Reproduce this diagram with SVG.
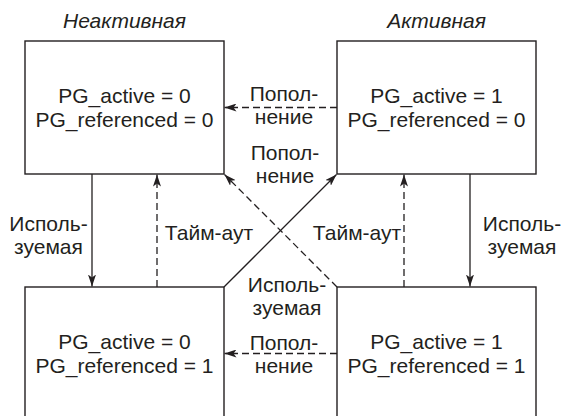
<svg xmlns="http://www.w3.org/2000/svg" width="564" height="416" viewBox="0 0 564 416">
<style>
.box{fill:#fff;stroke:#231f20;stroke-width:1.4}
.t{font-family:"Liberation Sans",Arial,sans-serif;font-size:21px;fill:#231f20;text-anchor:middle}
.it{font-style:italic}
.s{stroke:#231f20;stroke-width:1.3;fill:none}
.d{stroke:#231f20;stroke-width:1.3;fill:none;stroke-dasharray:7,4}
</style>
<defs>
<marker id="ah" markerUnits="userSpaceOnUse" markerWidth="12" markerHeight="8" refX="12" refY="4" orient="auto">
<path d="M0,0 L12,4 L0,8 L3,4 z" fill="#231f20"/>
</marker>
</defs>
<rect width="564" height="416" fill="#fff"/>
<text class="t it" x="124.5" y="28">Неактивная</text>
<text class="t it" x="436.5" y="28">Активная</text>
<g id="n00">
<rect class="box" x="25" y="41" width="199" height="133"/>
<text class="t" x="124.5" y="103">PG_active = 0</text>
<text class="t" x="124.5" y="127">PG_referenced = 0</text>
</g>
<g id="n10">
<rect class="box" x="337" y="41" width="199" height="133"/>
<text class="t" x="436.5" y="103">PG_active = 1</text>
<text class="t" x="436.5" y="127">PG_referenced = 0</text>
</g>
<g id="n01">
<rect class="box" x="25" y="287" width="199" height="140"/>
<text class="t" x="124.5" y="349">PG_active = 0</text>
<text class="t" x="124.5" y="373">PG_referenced = 1</text>
</g>
<g id="n11">
<rect class="box" x="337" y="287" width="199" height="140"/>
<text class="t" x="436.5" y="349">PG_active = 1</text>
<text class="t" x="436.5" y="373">PG_referenced = 1</text>
</g>
<g id="connectors">
<line class="d" x1="337" y1="107.5" x2="224.5" y2="107.5" marker-end="url(#ah)"/>
<line class="d" x1="337" y1="353.5" x2="224.5" y2="353.5" marker-end="url(#ah)"/>
<line class="s" x1="92" y1="174" x2="92" y2="286.5" marker-end="url(#ah)"/>
<line class="d" x1="157" y1="287" x2="157" y2="174.5" marker-end="url(#ah)"/>
<line class="d" x1="404" y1="287" x2="404" y2="174.5" marker-end="url(#ah)"/>
<line class="s" x1="470" y1="174" x2="470" y2="286.5" marker-end="url(#ah)"/>
<line class="s" x1="224" y1="287" x2="336.5" y2="174.5" marker-end="url(#ah)"/>
<line class="d" x1="337" y1="287" x2="224.5" y2="174.5" marker-end="url(#ah)"/>
</g>
<g id="labels">
<text class="t" x="284" y="101">Попол-</text>
<text class="t" x="284" y="124">нение</text>
<text class="t" x="285" y="160">Попол-</text>
<text class="t" x="285" y="183">нение</text>
<text class="t" x="48.5" y="231">Исполь-</text>
<text class="t" x="48.5" y="254">зуемая</text>
<text class="t" x="522" y="231">Исполь-</text>
<text class="t" x="522" y="254">зуемая</text>
<text class="t" x="209" y="240">Тайм-аут</text>
<text class="t" x="357" y="240">Тайм-аут</text>
<text class="t" x="287" y="292">Исполь-</text>
<text class="t" x="287" y="315">зуемая</text>
<text class="t" x="284" y="350">Попол-</text>
<text class="t" x="284" y="373">нение</text>
</g>
</svg>
